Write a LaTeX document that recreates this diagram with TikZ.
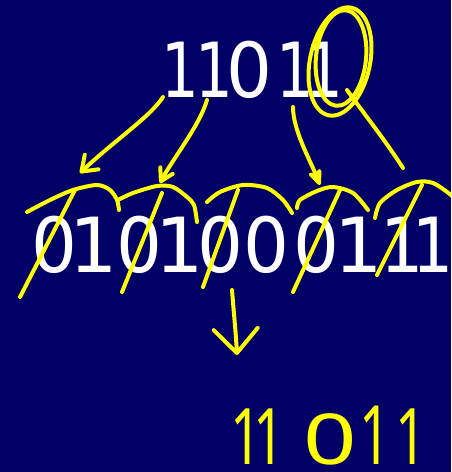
\documentclass[tikz,border=0pt]{standalone}
\usepackage{fontspec}
\setmainfont{DejaVu Sans}
\newfontfamily\handfont{Noto Sans}
\usetikzlibrary{arrows.meta}
\definecolor{slideBlue}{HTML}{000066}
\definecolor{penYellow}{HTML}{FFFF00}
\tikzset{
  bit/.style={text=white,anchor=base,inner sep=0pt,font=\fontsize{76}{76}\selectfont},
  hand/.style={text=penYellow,anchor=base,inner sep=0pt,font=\handfont\fontsize{78}{78}\selectfont},
  pen/.style={penYellow,line width=4pt,line cap=round,line join=round},
}

\begin{document}
\begin{tikzpicture}[x=1pt,y=-1pt]
  \fill[slideBlue] (0,0) rectangle (451,472);
  \useasboundingbox (0,0) rectangle (451,472);
  \clip (0,0) rectangle (451,472);

  % bits
  \foreach \val/\xx/\sx [count=\i] in {1/180/0.78,1/214.5/0.78,0/249.5/0.95,1/295/0.78,1/324.5/0.78}
    \node[bit] (t\i) at (\xx,97) {\scalebox{\sx}[1]{\val}};
  \foreach \val/\xx/\sx [count=\i] in {0/54.5/0.95,1/94/1,0/139.5/0.95,1/180/1,0/220.5/0.95,0/266.5/0.95,0/316.5/0.95,1/359/1,1/402.5/0.9,1/433/0.85}
    \node[bit] (b\i) at (\xx,272) {\scalebox{\sx}[1]{\val}};

  % written result
  \foreach \val/\xx/\sx/\sy [count=\i] in {1/246/0.7/1,1/269/0.7/1,0/330/1.2/0.9,1/375/0.7/1.05,1/411/0.7/1}
    \node[hand] (h\i) at (\xx,464) {\scalebox{\sx}[\sy]{\val}};

  % circled bit
  \draw[pen,rotate around={-12:(340,61.5)}] (340,61.5) ellipse [x radius=30,y radius=55];
  \draw[pen,rotate around={-6:(341,58)}] (341,58) ellipse [x radius=25,y radius=48];

  % arrows
  \coordinate (s1) at (163,97);
  \coordinate (e1) at (80,173);
  \coordinate (s2) at (207,100);
  \coordinate (e2) at (160,183);
  \coordinate (s3) at (293,107);
  \coordinate (e3) at (320,185);
  \coordinate (s4) at (347,90);
  \coordinate (e4) at (403,168);
  \coordinate (s5) at (232,290);
  \coordinate (e5) at (237,355);
  \draw[pen,-{Straight Barb[length=14pt,width=20pt,round]}] (s1) .. controls (150,117) and (115,140) .. (e1);
  \draw[pen,-{Straight Barb[length=12pt,width=14pt,round]}] (s2) .. controls (200,125) and (172,160) .. (e2);
  \draw[pen,-{Stealth[length=22pt,width=18pt,round]}] (s3) .. controls (293,130) and (310,160) .. (e3);
  \draw[pen] (s4) .. controls (365,115) and (385,140) .. (e4);
  \draw[pen,-{Straight Barb[length=24pt,width=44pt,round]}] (s5) .. controls (234,315) and (236,335) .. (e5);

  % groups of two
  \draw[pen] plot[smooth] coordinates {(27,212) (50,200) (73,190) (97,185) (110,190) (117,200) (119,210)};
  \draw[pen] plot[smooth] coordinates {(118,200) (133,193) (157,186) (173,187) (187,197) (194,205) (197,222)};
  \draw[pen] plot[smooth] coordinates {(207,202) (220,192) (243,185) (267,188) (283,200) (292,213)};
  \draw[pen] plot[smooth] coordinates {(297,208) (300,200) (317,191) (333,187) (353,193) (368,210)};
  \draw[pen] plot[smooth] coordinates {(375,218) (380,203) (397,190) (417,182) (433,183) (451,195) (460,205)};
  \draw[pen] (75,190) -- (20,297);
  \draw[pen] (162,193) -- (122,292);
  \draw[pen] (238,190) -- (203,287);
  \draw[pen] (340,190) -- (293,292);
  \draw[pen] (422,185) -- (377,275);
\end{tikzpicture}
\end{document}
